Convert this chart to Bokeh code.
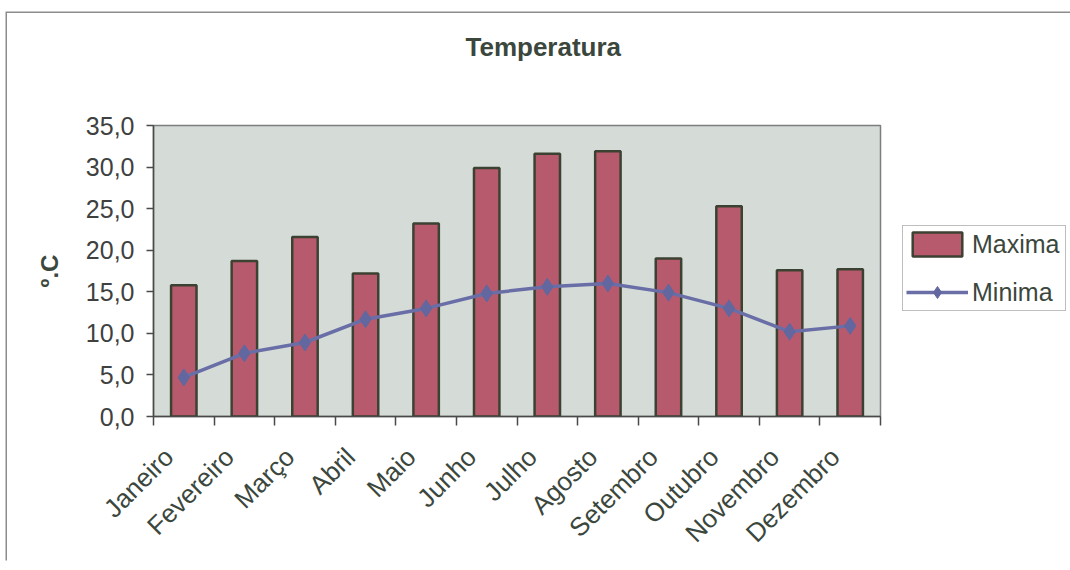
import math
from bokeh.plotting import figure
from bokeh.models import (Range1d, FixedTicker, Legend, LegendItem, ColumnDataSource)
from bokeh.embed import file_html
from bokeh.resources import INLINE

# ---- data ----
categories = ["Janeiro", "Fevereiro", "Março", "Abril", "Maio", "Junho",
              "Julho", "Agosto", "Setembro", "Outubro", "Novembro", "Dezembro"]
maxima = [15.8, 18.7, 21.6, 17.2, 23.2, 29.9, 31.6, 31.9, 19.0, 25.3, 17.6, 17.7]
minima = [4.7, 7.6, 8.9, 11.7, 13.0, 14.8, 15.6, 16.0, 14.9, 13.0, 10.2, 10.9]
y_ticks = [0, 5, 10, 15, 20, 25, 30, 35]
y_tick_labels = ["0,0", "5,0", "10,0", "15,0", "20,0", "25,0", "30,0", "35,0"]
title_text = "Temperatura"
y_label = "º.C"
series_names = ["Maxima", "Minima"]

FONT = "Liberation Sans"
TXT = "#3b473d"

n = len(categories)
xs = [i + 0.5 for i in range(n)]
src = ColumnDataSource(dict(x=xs, cat=categories, maxima=maxima, minima=minima))

FRAME_W = 727
p = figure(
    output_backend="svg", toolbar_location=None,
    x_range=Range1d(0, n), y_range=Range1d(y_ticks[0], y_ticks[-1]),
    frame_width=FRAME_W, frame_height=291,
    min_border_left=146, min_border_right=174,
    min_border_top=112, min_border_bottom=146,
    title=title_text + "\n",
)
p.styles = {"margin-top": "13px", "margin-left": "7px",
            "box-shadow": "-1.5px -1.5px 0 0 #8c8c8c"}
p.background_fill_color = "#d5dcd8"
p.border_fill_color = "white"
p.outline_line_color = "#7d7d7d"
p.outline_line_width = 1.5
p.xgrid.visible = False
p.ygrid.visible = False

# title (placed near the top of the chart area, as in the scan)
p.title.align = "left"
p.title.offset = 312
p.title.vertical_align = "top"
p.title.standoff = 34
p.title.text_line_height = 1.5
p.title.text_font = FONT
p.title.text_font_size = "26px"
p.title.text_font_style = "bold"
p.title.text_color = TXT

# bars
bars = p.vbar(x="x", top="maxima", width=0.42, bottom=0, source=src,
              fill_color="#b85a6d", line_color="#3c4232", line_width=2.5)
# line + diamonds
ln = p.line(x="x", y="minima", source=src, line_color="#6a6ea7", line_width=3.5)
mk = p.scatter(x="x", y="minima", source=src, marker="diamond",
               size=17, fill_color="#62679f", line_color="#62679f")

# x axis: ticks between categories, labels near centres (shifted like Excel's)
shift = 15.0 * n / FRAME_W
label_pos = [x - shift for x in xs]
xa = p.xaxis[0]
xa.ticker = FixedTicker(ticks=label_pos, minor_ticks=list(range(n + 1)))
xa.major_label_overrides = {x: c for x, c in zip(label_pos, categories)}
xa.major_tick_line_color = None
xa.major_tick_out = 8
xa.major_tick_in = 0
xa.minor_tick_out = 9
xa.minor_tick_in = 0
xa.minor_tick_line_color = "#4a4a4a"
xa.minor_tick_line_width = 1.5
xa.axis_line_color = "#4a4a4a"
xa.axis_line_width = 1.5
xa.major_label_orientation = math.pi / 4
xa.major_label_standoff = 27
xa.major_label_text_font = FONT
xa.major_label_text_font_size = "26px"
xa.major_label_text_color = TXT

# y axis
ya = p.yaxis[0]
ya.ticker = FixedTicker(ticks=y_ticks, minor_ticks=[])
ya.major_label_overrides = {t: l for t, l in zip(y_ticks, y_tick_labels)}
ya.major_tick_out = 7
ya.major_tick_in = 0
ya.major_tick_line_color = "#4a4a4a"
ya.major_tick_line_width = 1.5
ya.axis_line_color = "#4a4a4a"
ya.axis_line_width = 1.5
ya.major_label_standoff = 12
ya.major_label_text_font = FONT
ya.major_label_text_font_size = "25px"
ya.major_label_text_color = "#3e4140"
ya.axis_label = y_label
ya.axis_label_text_font = FONT
ya.axis_label_text_font_size = "24px"
ya.axis_label_text_font_style = "bold"
ya.axis_label_text_color = TXT
ya.axis_label_standoff = 20

# legend (in the right panel, partly cut by the page edge as in the scan)
legend = Legend(
    items=[LegendItem(label=series_names[0], renderers=[bars]),
           LegendItem(label=series_names[1], renderers=[ln, mk])],
    location=(22, 105),
    orientation="vertical",
    glyph_width=62, glyph_height=30, label_height=30, label_width=90,
    label_standoff=4, spacing=18, padding=3, margin=0,
    label_text_font=FONT, label_text_font_size="25px", label_text_color=TXT,
    border_line_color="#7d7d7d", border_line_width=1.5,
    background_fill_color="white", background_fill_alpha=1.0,
)
p.add_layout(legend, "right")

open("out.html", "w").write(file_html(p, INLINE))
